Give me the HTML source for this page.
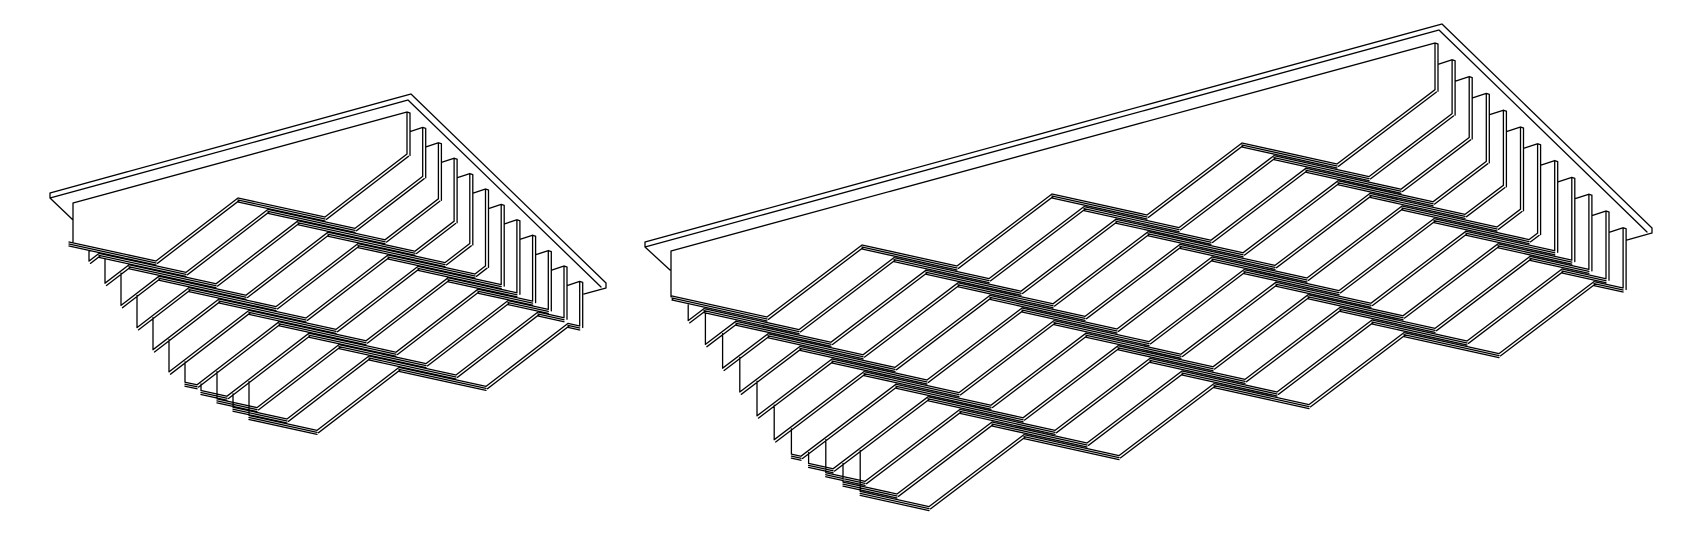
<!DOCTYPE html>
<html><head><meta charset="utf-8"><style>
html,body{margin:0;padding:0;background:#fff;}
svg{display:block;}
</style></head><body>
<svg id="s" width="1702" height="533" viewBox="0 0 1702 533" xmlns="http://www.w3.org/2000/svg">
<rect width="1702" height="533" fill="#fff"/>
<path id="p" fill="none" stroke="#000" stroke-width="1.3" stroke-linecap="round" stroke-linejoin="round" d=""/>
</svg>
<script>
var out=[];
function f(v){return v.toFixed(1);}
function L(x1,y1,x2,y2){out.push("M"+f(x1)+" "+f(y1)+"L"+f(x2)+" "+f(y2));}
function PL(pts){var s="M"+f(pts[0][0])+" "+f(pts[0][1]);for(var i=1;i<pts.length;i++)s+="L"+f(pts[i][0])+" "+f(pts[i][1]);out.push(s);}
function slat(x1,y1,x2,y2){L(x1,y1,x2,y2);L(x1+1.5,y1+2.3,x2+1.5,y2+2.3);}
function band(x1,y1,x2,y2){L(x1,y1,x2,y2);L(x1,y1+2,x2,y2+2);L(x1,y1+4,x2,y2+4);}
function fig(p){
  var A=p.A,D=p.D,S=p.S,N=p.N,F=p.F;
  var R=[D[0]-A[0],D[1]-A[1]];
  function P(r,k){return [p.O[0]+r*R[0]+k*S[0], p.O[1]+r*R[1]+k*S[1]];}
  var m=D[1]/D[0], ma=A[1]/A[0];
  function xe(k){return p.xe0+k*p.xes;}
  function xr(k){return p.xr0+k*p.xrs;}
  var r,k,q;
  for(r=-1;r<F;r++)for(k=0;k<N;k++){
    q=P(r,k);
    var x2=q[0]+D[0]; if(r==F-1)x2=Math.min(x2,xr(k));
    band(q[0],q[1],x2,q[1]+(x2-q[0])*m);
    var t=1; if(r==-1){t=Math.min(1,(q[0]-xe(k))/(-A[0]));}
    if(t>0)slat(q[0],q[1],q[0]+t*A[0],q[1]+t*A[1]);
  }
  for(k=0;k<N;k++){
    q=P(-2,k); var xs=Math.max(q[0],xe(k)), xend=q[0]+D[0];
    if(xs<xend)band(xs,q[1]+(xs-q[0])*m,xend,q[1]+D[1]);
  }
  var finBot=[];
  for(k=0;k<N;k++){
    q=P(F,k); var b=[q[0]+A[0],q[1]+A[1]];
    if(b[0]<xr(k)){var y=b[1]+(xr(k)-b[0])*ma; slat(b[0],b[1],xr(k),y); finBot[k]=y;}
    else{var qb=P(F-1,k); finBot[k]=qb[1]+(xr(k)-qb[0])*m;}
  }
  for(k=0;k<N;k++){
    var x=xr(k), ty=p.T0y+k*p.Ts;
    L(x,ty,x,finBot[k]); L(x+3,ty+1,x+3,finBot[k]+1.5); L(x,ty,x+3,ty+1);
    if(k>0){L(x,ty,xr(k-1)+3,ty+(xr(k)-xr(k-1))*0.27);}
  }
  for(k=1;k<N;k++){
    var x=xe(k), ytop=-1e9, j, yy;
    for(j=0;j<N;j++){var bq=P(-1,j); if(x>=bq[0]&&x<=bq[0]+D[0]){yy=bq[1]+(x-bq[0])*m+4; if(yy>ytop)ytop=yy;}}
    for(j=1;j<k;j++){var sq=P(-1,j); var tj=Math.min(1,(sq[0]-xe(j))/(-A[0])); var xl=sq[0]+tj*A[0];
      if(tj>0&&x>=xl&&x<=sq[0]){yy=sq[1]+(sq[0]-x)*(-ma)+2.3; if(yy>ytop)ytop=yy;}}
    q=P(-1,k); var t=(q[0]-x)/(-A[0]), yb;
    if(t<1) yb=q[1]+t*A[1]; else {var q2=P(-2,k); yb=q2[1]+(x-q2[0])*m;}
    if(yb>ytop)L(x,ytop,x,yb);
  }
  var p0=P(-1,0);
  L(p.xe0,p.faceY,xr(0),p.T0y);
  L(p.xe0,p.faceY,p.xe0,p0[1]);
  PL(p.rimO); PL(p.rimI); PL(p.tip); PL(p.bevel);
}
fig({O:[238,198],A:[-82,63],D:[87,19],S:[30,11.4],N:12,F:1,
  xe0:73,xes:16,xr0:407,xrs:15.7,T0y:112,Ts:15.4,faceY:203,
  rimO:[[50,193],[411,94],[606,283]],
  rimI:[[50,198],[408,100],[601,287]],
  tip:[[606,283],[606,288],[584,294]],
  bevel:[[50,193],[50,198],[73,220]]});
fig({O:[862,245],A:[-95,72],D:[95,21],S:[32,12.6],N:12,F:3,
  xe0:671,xes:17.2,xr0:1435,xrs:17.1,T0y:43,Ts:16.8,faceY:251,
  rimO:[[645,242],[1442,24],[1652,228]],
  rimI:[[645,247],[1439,30],[1647,232]],
  tip:[[1652,228],[1652,233],[1627,240]],
  bevel:[[645,242],[645,247],[670,270]]});
document.getElementById("p").setAttribute("d",out.join(""));
</script>
</body></html>
